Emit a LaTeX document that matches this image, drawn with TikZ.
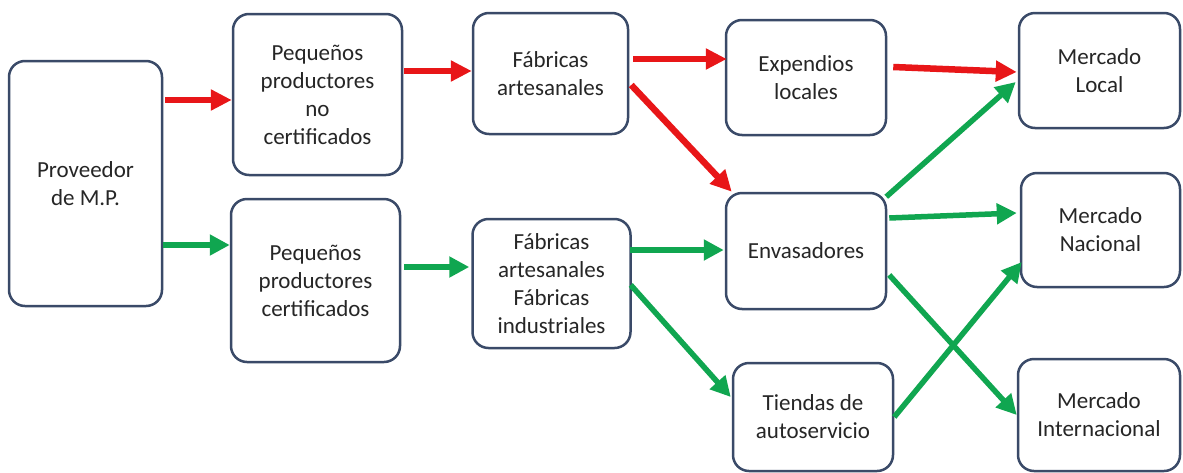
\documentclass[tikz,border=0pt]{standalone}
\usepackage{fontspec}
\setmainfont{Carlito}
\usetikzlibrary{arrows.meta,calc}
\definecolor{boxline}{RGB}{58,74,104}
\definecolor{txt}{RGB}{38,38,38}
\definecolor{redarr}{RGB}{232,22,24}
\definecolor{greenarr}{RGB}{16,166,80}
\tikzset{
  box/.style={draw=boxline, line width=2.5pt, rounded corners=16pt, fill=white,
    align=center, text=txt, font=\fontsize{23}{28}\selectfont, inner sep=0pt},
  redflow/.style={draw=redarr, line width=6.5pt,
    -{Triangle[length=21pt,width=20pt]}},
  greenflow/.style={draw=greenarr, line width=5.5pt,
    -{Triangle[length=20pt,width=20pt]}}
}
\begin{document}
\begin{tikzpicture}[x=1pt,y=-1pt]
\useasboundingbox (0,0) rectangle (1183,472);
\fill[white] (0,0) rectangle (1183,472);

\node[box, minimum width=153pt, minimum height=245pt] (prov) at (85.5,183.5) {Proveedor\\de M.P.};
\node[box, minimum width=169pt, minimum height=161pt] (pnc) at (317.5,94.5) {Pequeños\\productores\\no\\certificados};
\node[box, minimum width=169pt, minimum height=163pt] (pc) at (315.5,280.5) {Pequeños\\productores\\certificados};
\node[box, minimum width=155pt, minimum height=121pt] (fa) at (550.5,73.5) {Fábricas\\artesanales};
\node[box, minimum width=158pt, minimum height=129pt] (fai) at (551.5,283.5) {Fábricas\\artesanales\\Fábricas\\industriales};
\node[box, minimum width=160pt, minimum height=115pt] (exp) at (806,77.5) {Expendios\\locales};
\node[box, minimum width=160pt, minimum height=116pt] (env) at (806,251) {Envasadores};
\node[box, minimum width=160pt, minimum height=108pt] (tie) at (813,417) {Tiendas de\\autoservicio};
\node[box, minimum width=161pt, minimum height=115pt] (ml) at (1099.5,70.5) {Mercado\\Local};
\node[box, minimum width=159pt, minimum height=114pt] (mn) at (1100.5,230) {Mercado\\Nacional};
\node[box, minimum width=162pt, minimum height=112pt] (mi) at (1099,415) {Mercado\\Internacional};

% red flows
\draw[redflow] ([xshift=2pt,yshift=83.5pt]prov.east) -- ([yshift=-5.5pt]pnc.west);
\draw[redflow] ([xshift=1pt,yshift=23.5pt]pnc.east) -- ([yshift=2.5pt]fa.west);
\draw[redflow] ([xshift=4pt,yshift=14.5pt]fa.east) -- ([xshift=2pt,yshift=18.5pt]exp.west);
\draw[redflow] ([xshift=2pt,yshift=-11.5pt]fa.east) -- ([xshift=7pt]env.north west);
\draw[redflow] ([xshift=6pt,yshift=10.5pt]exp.east) -- ([xshift=-1pt,yshift=-1.5pt]ml.west);

% green flows
\draw[greenflow] (prov.east |- 0,245) -- ([yshift=35.5pt]pc.west);
\draw[greenflow] ([xshift=3pt,yshift=13.5pt]pc.east) -- ([xshift=-2pt,yshift=16.5pt]fai.west);
\draw[greenflow] ([xshift=-2pt,yshift=33.5pt]fai.east) -- ([xshift=-1pt,yshift=1pt]env.west);
\draw[greenflow] ([xshift=-1pt,yshift=-1.5pt]fai.east) -- ([xshift=-1pt,yshift=20pt]tie.west);
\draw[greenflow] ([xshift=-1pt,yshift=-5pt]env.north east) -- ([xshift=-2pt,yshift=-11.5pt]ml.west);
\draw[greenflow] ([xshift=2pt,yshift=33pt]env.east) -- ([xshift=-3pt,yshift=17pt]mn.west);
\draw[greenflow] ([xshift=2pt,yshift=-24pt]env.east) -- (mi.west);
\draw[greenflow] (tie.east) -- ([xshift=2pt,yshift=-32pt]mn.west);
\end{tikzpicture}
\end{document}
